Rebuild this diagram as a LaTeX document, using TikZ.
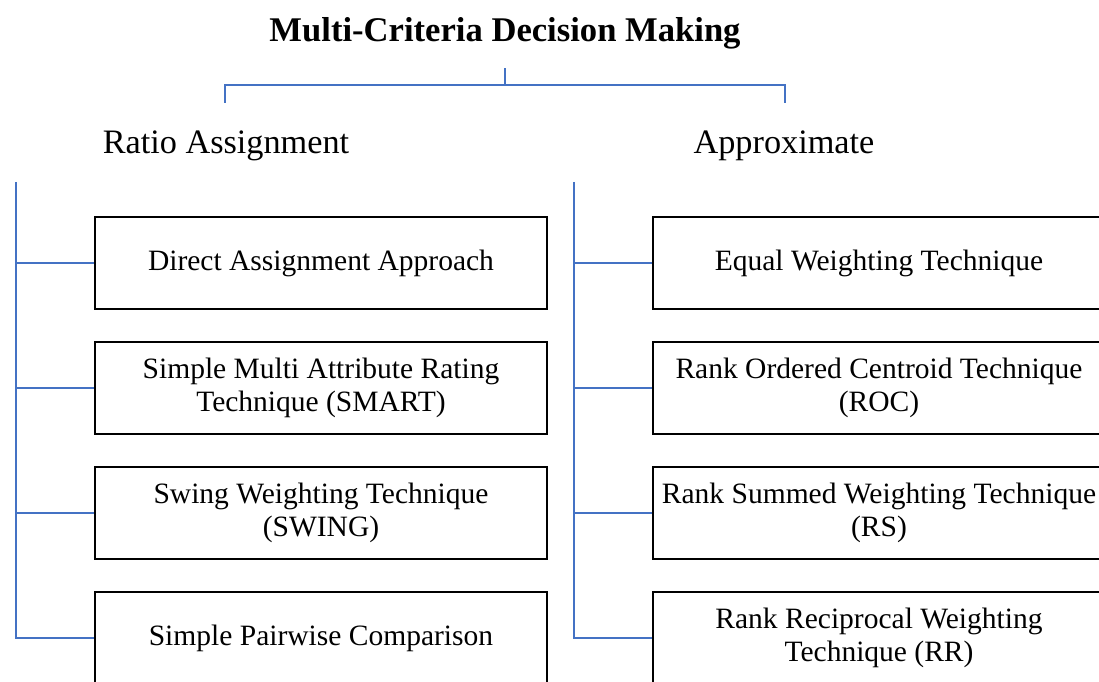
\documentclass[tikz,border=0pt]{standalone}
\usepackage{fontspec}
\setmainfont{Liberation Serif}
\definecolor{linkblue}{RGB}{68,114,196}
\begin{document}
\begin{tikzpicture}[x=0.02cm,y=-0.02cm,
    box/.style={draw=black,line width=1.3pt,minimum width=9.04cm,minimum height=1.84cm,
      inner sep=0pt,align=center,font=\fontsize{16.8}{18.8}\selectfont},
    head/.style={font=\fontsize{19.5}{22}\selectfont},
    link/.style={draw=linkblue,line width=1.1pt}]
  \useasboundingbox (0,0) rectangle (1099,682);
  \clip (0,0) rectangle (1099,682);
  % title and the two groups
  \node[font=\bfseries\fontsize{19.7}{22}\selectfont] (title) at (505,33) {Multi-Criteria Decision Making};
  \node[head] (ratio) at (226,146) {Ratio Assignment};
  \node[head] (approx) at (784,146) {Approximate};
  \coordinate (fork) at (505,85);
  \coordinate (lt) at (225,103);
  \coordinate (rt) at (785,103);
  \draw[link] (fork) -- ++(0,-17);
  \draw[link] (lt) -- ++(0,-18) -| (rt);
  % boxes
  \foreach \n/\y/\txt in {1/263/{Direct Assignment Approach},
      2/388/{Simple Multi Attribute Rating\\Technique (SMART)},
      3/513/{Swing Weighting Technique\\(SWING)},
      4/638/{Simple Pairwise Comparison}}
    \node[box] (l\n) at (321,\y) {\txt};
  \foreach \n/\y/\txt in {1/263/{Equal Weighting Technique},
      2/388/{Rank Ordered Centroid Technique\\(ROC)},
      3/513/{Rank Summed Weighting Technique\\(RS)},
      4/638/{Rank Reciprocal Weighting\\Technique (RR)}}
    \node[box] (r\n) at (879,\y) {\txt};
  % spines
  \coordinate (lspine) at (16,182);
  \coordinate (rspine) at (574,182);
  \draw[link] (lspine) |- (l4.west);
  \draw[link] (rspine) |- (r4.west);
  \foreach \n in {1,2,3} {
    \draw[link] (lspine |- l\n.west) -- (l\n.west);
    \draw[link] (rspine |- r\n.west) -- (r\n.west);
  }
\end{tikzpicture}
\end{document}
